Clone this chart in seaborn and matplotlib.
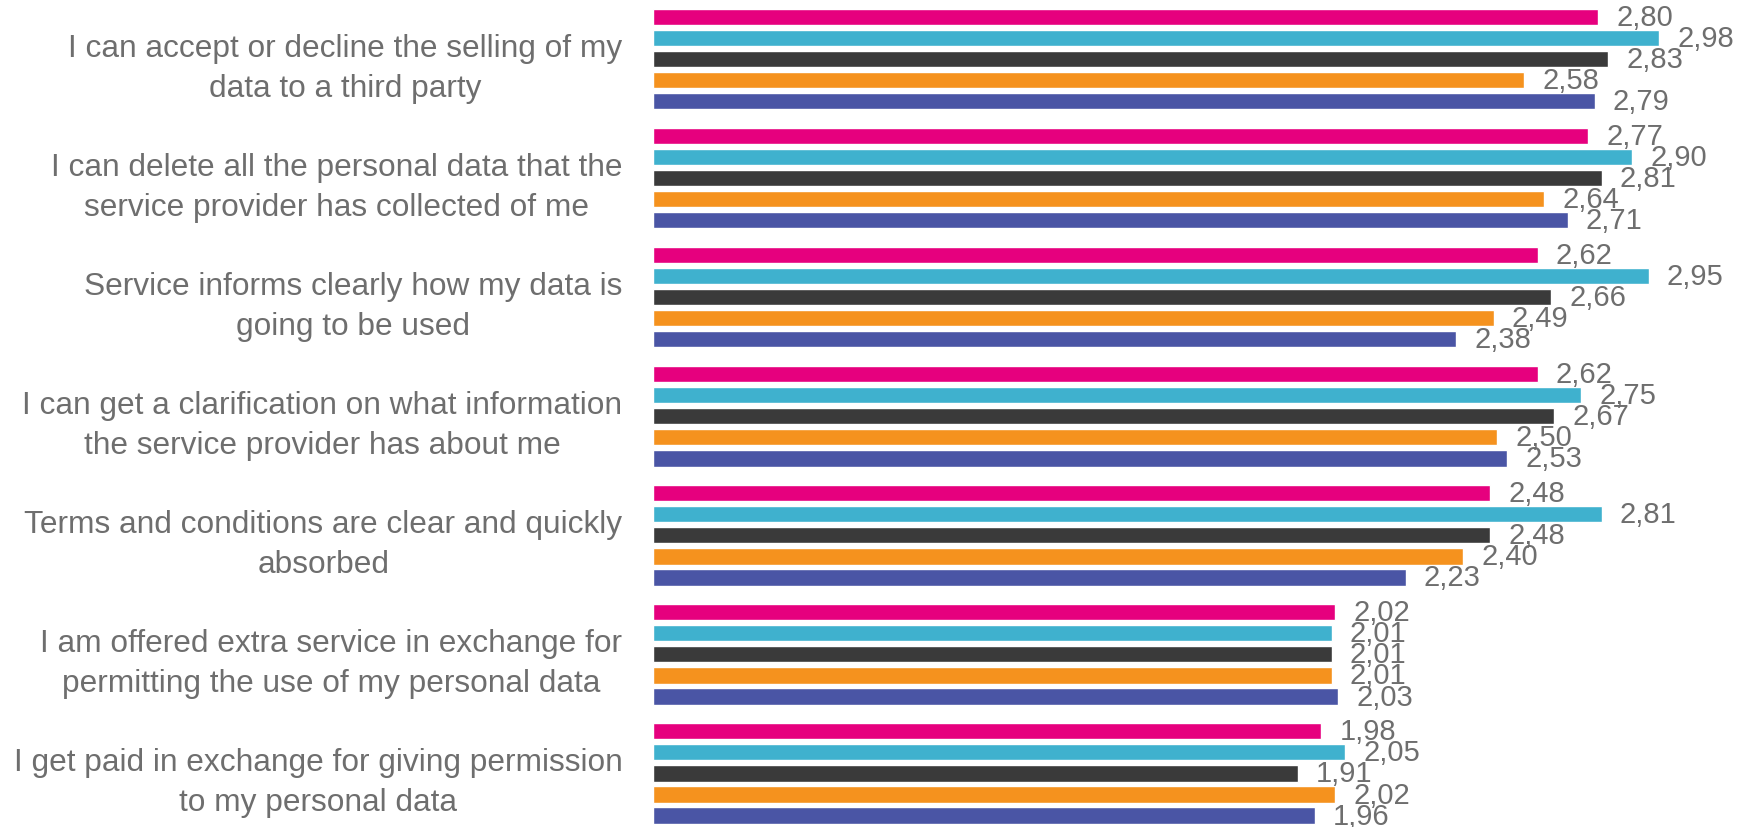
import matplotlib
matplotlib.use("Agg")
import matplotlib.pyplot as plt
import seaborn as sns
import pandas as pd

categories = [
    "I can accept or decline the selling of my\ndata to a third party",
    "I can delete all the personal data that the\nservice provider has collected of me",
    "Service informs clearly how my data is\ngoing to be used",
    "I can get a clarification on what information\nthe service provider has about me",
    "Terms and conditions are clear and quickly\nabsorbed",
    "I am offered extra service in exchange for\npermitting the use of my personal data",
    "I get paid in exchange for giving permission\nto my personal data",
]
series_names = ["Series 1", "Series 2", "Series 3", "Series 4", "Series 5"]
series1 = [2.80, 2.77, 2.62, 2.62, 2.48, 2.02, 1.98]
series2 = [2.98, 2.90, 2.95, 2.75, 2.81, 2.01, 2.05]
series3 = [2.83, 2.81, 2.66, 2.67, 2.48, 2.01, 1.91]
series4 = [2.58, 2.64, 2.49, 2.50, 2.40, 2.01, 2.02]
series5 = [2.79, 2.71, 2.38, 2.53, 2.23, 2.03, 1.96]
colors = ["#E6007E", "#3FB1CE", "#3A3A3A", "#F5921E", "#4A55A5"]

all_series = [series1, series2, series3, series4, series5]
rows = []
for name, vals in zip(series_names, all_series):
    for cat, v in zip(categories, vals):
        rows.append({"category": cat, "series": name, "value": v})
df = pd.DataFrame(rows)

sns.set_style("white")
plt.rcParams["font.family"] = ["Liberation Sans", "DejaVu Sans"]

fig = plt.figure(figsize=(17.37, 8.28), dpi=100)
ax = fig.add_axes([653 / 1737, 0, 1 - 653 / 1737, 1])

sns.barplot(data=df, y="category", x="value", hue="series", orient="h",
            palette=colors, width=0.886, gap=0.23, legend=False, ax=ax,
            order=categories, hue_order=series_names, errorbar=None,
            saturation=1)

for cont in ax.containers:
    labels = [f"{b.get_width():.2f}".replace(".", ",") for b in cont]
    ax.bar_label(cont, labels=labels, padding=13, fontsize=21, color="#6E6E6E")

ax.set_xlim(0, 1084 / 337.6)
ax.set_ylim(6.45, -0.504)
ax.set_xlabel("")
ax.set_ylabel("")
ax.set_xticks([])
for s in ax.spines.values():
    s.set_visible(False)
ax.tick_params(axis="y", length=0, pad=22, labelsize=22.8, labelcolor="#6E6E6E")
for lbl in ax.get_yticklabels():
    lbl.set_multialignment("center")
    lbl.set_linespacing(1.45)

fig.savefig("out.png", dpi=100)
